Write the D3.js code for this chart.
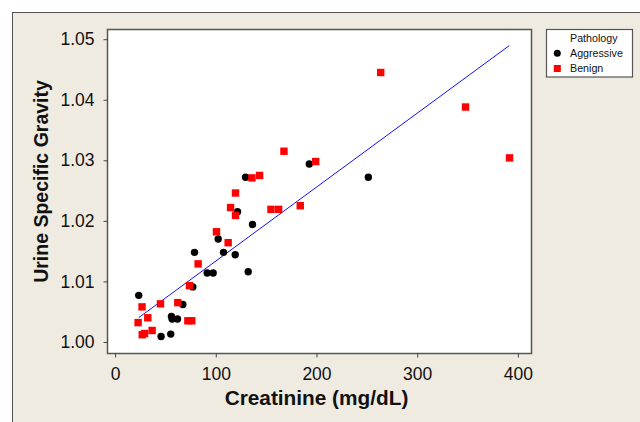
<!DOCTYPE html>
<html>

<head>
  <meta charset="utf-8">
  <title>Urine Specific Gravity vs Creatinine</title>
  <script src="https://d3js.org/d3.v7.min.js"></script>
  <style>
    body { margin: 0; background: #fff; }
    svg { display: block; font-family: "Liberation Sans", Arial, sans-serif; }
  </style>
</head>

<body>
  <svg width="640" height="422"></svg>
  <script>
    // Aggressive (black circles)
    const aggX = [23.5, 45.7, 55.3, 56.0, 56.7, 62.0, 67.3, 77.2, 78.9, 91.5,
      97.4, 102.4, 107.7, 119.3, 121.6, 129.6, 132.2, 136.5, 192.9, 251.5];
    const aggY = [1.0077, 1.0009, 1.0013, 1.0042, 1.0038, 1.0038, 1.0062, 1.0091, 1.0148, 1.0114,
      1.0114, 1.0170, 1.0148, 1.0144, 1.0215, 1.0272, 1.0116, 1.0194, 1.0294, 1.0272];

    // Benign (red squares)
    const benX = [22.9, 26.8, 27.0, 29.3, 32.5, 36.8, 45.1, 62.3, 72.3, 76.2,
      73.9, 82.5, 100.7, 112.3, 114.7, 119.6, 119.6, 135.9, 143.5, 154.8,
      162.4, 167.7, 183.9, 199.2, 263.8, 348.0, 391.7];
    const benY = [1.0032, 1.0058, 1.0012, 1.0014, 1.0040, 1.0019, 1.0063, 1.0065, 1.0035, 1.0035,
      1.0093, 1.0129, 1.0182, 1.0164, 1.0222, 1.0246, 1.0209, 1.0271, 1.0275, 1.0219,
      1.0219, 1.0315, 1.0225, 1.0298, 1.0445, 1.0388, 1.0304];

    // fitted line
    const fitRange = [23.5, 391.4];
    const fitIntercept = 1.00115;
    const fitSlope = 0.0001221;

    const xTicks = [0, 100, 200, 300, 400];
    const yTicks = [1.00, 1.01, 1.02, 1.03, 1.04, 1.05];
    const legendTitle = "Pathology";
    const groups = ["Aggressive", "Benign"];

    const svg = d3.select("svg");

    // panel background
    svg.append("rect")
      .attr("x", 12.5).attr("y", 12.5)
      .attr("width", 640).attr("height", 420)
      .attr("fill", "#efebe1")
      .attr("stroke", "#555")
      .attr("stroke-width", 1);

    const plotL = 107.5, plotR = 531.5, plotT = 29.5, plotB = 353.5;

    const x = d3.scaleLinear().domain([-7.5, 413.5]).range([plotL, plotR]);
    const y = d3.scaleLinear().domain([0.9981, 1.0516]).range([plotB, plotT]);

    svg.append("rect")
      .attr("x", plotL).attr("y", plotT)
      .attr("width", plotR - plotL).attr("height", plotB - plotT)
      .attr("fill", "#fff")
      .attr("stroke", "#555")
      .attr("stroke-width", 1.5);

    const xAxis = svg.append("g")
      .attr("transform", `translate(0,${plotB})`)
      .call(d3.axisBottom(x).tickValues(xTicks).tickFormat(d3.format("d")).tickSize(4).tickPadding(10));
    const yAxis = svg.append("g")
      .attr("transform", `translate(${plotL},0)`)
      .call(d3.axisLeft(y).tickValues(yTicks).tickFormat(d3.format(".2f")).tickSize(4).tickPadding(9));

    [xAxis, yAxis].forEach(a => {
      a.select(".domain").remove();
      a.selectAll(".tick line").attr("stroke", "#444");
      a.selectAll("text")
        .attr("fill", "#111")
        .style("font-size", "17.5px")
        .style("font-family", "'Liberation Sans', Arial, sans-serif");
    });

    // regression line
    svg.append("line")
      .attr("x1", x(fitRange[0])).attr("y1", y(fitIntercept + fitSlope * fitRange[0]))
      .attr("x2", x(fitRange[1])).attr("y2", y(fitIntercept + fitSlope * fitRange[1]))
      .attr("stroke", "#1010ff")
      .attr("stroke-width", 1);

    const aggData = aggX.map((d, i) => [d, aggY[i]]);
    const benData = benX.map((d, i) => [d, benY[i]]);

    svg.append("g").selectAll("circle")
      .data(aggData)
      .join("circle")
      .attr("cx", d => x(d[0]))
      .attr("cy", d => y(d[1]))
      .attr("r", 3.7)
      .attr("fill", "#000");

    const sq = 7.4;
    svg.append("g").selectAll("rect")
      .data(benData)
      .join("rect")
      .attr("x", d => x(d[0]) - sq / 2)
      .attr("y", d => y(d[1]) - sq / 2)
      .attr("width", sq).attr("height", sq)
      .attr("fill", "#ff0000");

    // axis titles
    svg.append("text")
      .attr("x", 316.5)
      .attr("y", 405)
      .attr("text-anchor", "middle")
      .style("font-size", "20.8px")
      .style("font-weight", "bold")
      .attr("fill", "#111")
      .text("Creatinine (mg/dL)");

    svg.append("text")
      .attr("transform", `translate(47.5,${(plotT + plotB) / 2 - 10}) rotate(-90)`)
      .attr("text-anchor", "middle")
      .style("font-size", "19.5px")
      .style("font-weight", "bold")
      .attr("fill", "#111")
      .text("Urine Specific Gravity");

    // legend
    const legend = svg.append("g");
    legend.append("rect")
      .attr("x", 546.5).attr("y", 29.5)
      .attr("width", 86).attr("height", 47.5)
      .attr("fill", "#fff")
      .attr("stroke", "#555")
      .attr("stroke-width", 1.2);
    legend.append("text")
      .attr("x", 570).attr("y", 42)
      .style("font-size", "10.7px")
      .attr("fill", "#111")
      .text(legendTitle);
    legend.append("circle")
      .attr("cx", 557.3).attr("cy", 53.3).attr("r", 3.5)
      .attr("fill", "#000");
    legend.append("rect")
      .attr("x", 557.3 - 3.5).attr("y", 68.5 - 3.5)
      .attr("width", 7).attr("height", 7)
      .attr("fill", "#ff0000");
    groups.forEach((g, i) => {
      legend.append("text")
        .attr("x", 570).attr("y", 57 + i * 15.3)
        .style("font-size", "10.7px")
        .attr("fill", "#111")
        .text(g);
    });
  </script>
</body>

</html>
